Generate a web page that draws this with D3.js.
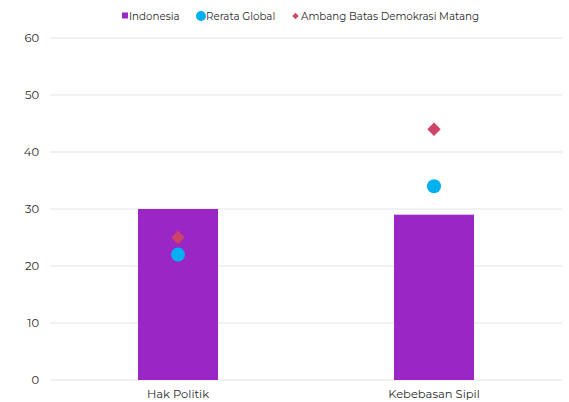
<!DOCTYPE html>
<html><head><meta charset="utf-8">
<script src="https://cdn.jsdelivr.net/npm/d3@7"></script>
<style>
body{margin:0;background:#fff;}
text{font-family:Montserrat,"Open Sans",Inter,sans-serif;fill:#2b2b2b;}
</style></head>
<body>
<svg id="c" width="569" height="402"></svg>
<script>
const categories = ["Hak Politik", "Kebebasan Sipil"];
const indonesia = [30, 29];
const globalAvg = [22, 34];
const threshold = [25, 44];
const yTicks = [0, 10, 20, 30, 40, 50, 60];
const seriesNames = ["Indonesia", "Rerata Global", "Ambang Batas Demokrasi Matang"];

const svg = d3.select("#c");
const margin = {left: 50, right: 7, top: 38, bottom: 22};
const W = 569, H = 402;
const x = d3.scaleBand().domain(categories).range([margin.left, W - margin.right]).padding(0);
const y = d3.scaleLinear().domain([0, 60]).range([H - margin.bottom, margin.top]);

// grid
svg.append("g").selectAll("line").data(yTicks).join("line")
  .attr("x1", margin.left).attr("x2", W - margin.right)
  .attr("y1", d => y(d)).attr("y2", d => y(d))
  .attr("stroke", "#e3e3e3").attr("stroke-width", 1);

// y axis
const yAxis = svg.append("g").attr("transform", `translate(${margin.left},0)`)
  .call(d3.axisLeft(y).tickValues(yTicks).tickSize(0).tickPadding(11));
yAxis.select(".domain").remove();
yAxis.selectAll("text").attr("font-size", 11.5).style("fill", "#2b2b2b")
  .style("font-family", 'Montserrat,"Open Sans",Inter,sans-serif');

// x axis
const xAxis = svg.append("g").attr("transform", `translate(0,${y(0)})`)
  .call(d3.axisBottom(x).tickSize(0).tickPadding(10));
xAxis.select(".domain").remove();
xAxis.selectAll("text").attr("font-size", 11.5).style("fill", "#2b2b2b")
  .style("font-family", 'Montserrat,"Open Sans",Inter,sans-serif');

const bw = x.bandwidth() * 0.3125;
svg.append("g").selectAll("rect").data(categories).join("rect")
  .attr("x", d => x(d) + x.bandwidth()/2 - bw/2)
  .attr("width", bw)
  .attr("y", (d,i) => y(indonesia[i]))
  .attr("height", (d,i) => y(0) - y(indonesia[i]))
  .attr("fill", "#9B26C6");

const cx = d => x(d) + x.bandwidth()/2;
svg.append("g").selectAll("path").data(categories).join("path")
  .attr("d", d3.symbol(d3.symbolSquare, 90))
  .attr("transform", (d,i) => `translate(${cx(d)},${y(threshold[i])}) rotate(45)`)
  .attr("fill", "#CC4466");

svg.append("g").selectAll("circle").data(categories).join("circle")
  .attr("cx", cx).attr("cy", (d,i) => y(globalAvg[i])).attr("r", 7)
  .attr("fill", "#00B0F0");

// legend
const lg = svg.append("g");
const ly = 16;
lg.append("rect").attr("x", 122).attr("y", ly - 3.5).attr("width", 6).attr("height", 6).attr("fill", "#9B26C6");
lg.append("text").attr("x", 129).attr("y", ly).attr("dy", "0.35em").attr("font-size", 10.3).text(seriesNames[0]);
lg.append("circle").attr("cx", 201).attr("cy", ly).attr("r", 5).attr("fill", "#00B0F0");
lg.append("text").attr("x", 206).attr("y", ly).attr("dy", "0.35em").attr("font-size", 10.3).text(seriesNames[1]);
lg.append("path").attr("d", d3.symbol(d3.symbolSquare, 20)).attr("transform", `translate(295.5,${ly}) rotate(45)`).attr("fill", "#CC4466");
lg.append("text").attr("x", 301).attr("y", ly).attr("dy", "0.35em").attr("font-size", 10.3).text(seriesNames[2]);
</script>
</body></html>
